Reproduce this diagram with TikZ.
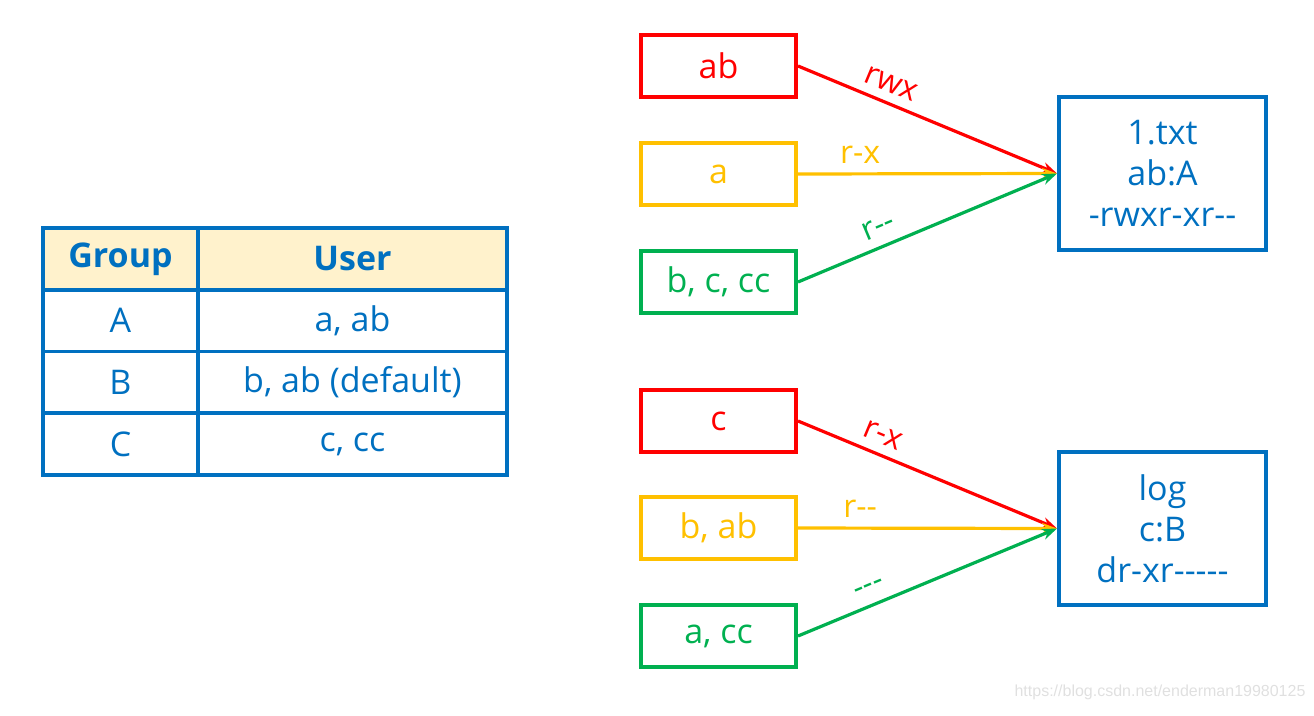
\documentclass[tikz,border=0pt]{standalone}
\usepackage{fontspec}
\setmainfont{Open Sans}
\newfontfamily\wmfont{Liberation Sans}
\usetikzlibrary{arrows.meta}
\definecolor{tblue}{HTML}{0070C0}
\definecolor{tred}{HTML}{FF0000}
\definecolor{tyel}{HTML}{FFC000}
\definecolor{tgreen}{HTML}{00B050}
\definecolor{thead}{HTML}{FFF2CC}
\begin{document}
\begin{tikzpicture}[x=1pt,y=-1pt,
  cell/.style={draw=tblue,line width=3.5pt,inner sep=0pt,text=tblue,font=\fontsize{34}{40}\selectfont},
  c1/.style={cell,minimum width=155pt},
  c2/.style={cell,minimum width=309pt},
  hd/.style={fill=thead,font=\fontsize{34}{40}\selectfont\bfseries,minimum height=62pt},
  rw/.style={minimum height=61.5pt},
  ubox/.style={draw=#1,text=#1,line width=4pt,minimum width=155pt,minimum height=62pt,inner sep=0pt,font=\fontsize{34}{40}\selectfont},
  fbox/.style={draw=tblue,text=tblue,line width=4pt,minimum width=207pt,minimum height=153pt,inner sep=0pt,align=center,font=\fontsize{34}{41}\selectfont},
  conn/.style={draw=#1,line width=3.2pt,-{Stealth[length=15pt,width=11pt]}},
  lbl/.style={text=#1,font=\fontsize{32}{36}\selectfont,inner sep=2pt,above=7pt}
]
\useasboundingbox (0,0) rectangle (1314,715);
% table
\node[c1,hd] (g0) at (120.5,259) {Group};
\node[c2,hd] (u0) at (352.5,259) {User};
\node[c1,rw] (g1) at (120.5,320.5) {A};
\node[c2,rw] (u1) at (352.5,320.5) {a, ab};
\node[c1,rw] (g2) at (120.5,382) {B};
\node[c2,rw] (u2) at (352.5,382) {b, ab (default)};
\node[c1,rw] (g3) at (120.5,444) {C};
\node[c2,rw] (u3) at (352.5,444) {c, cc};
% upper group
\node[ubox=tred] (ab) at (718.5,66) {ab};
\node[ubox=tyel] (a) at (718.5,174) {a};
\node[ubox=tgreen] (bccc) at (718.5,282) {b, c, cc};
\node[fbox] (f1) at (1162.5,173.5) {1.txt\\ab:A\\-rwxr-xr-{}-};
\draw[conn=tred] (ab.east) -- node[lbl=tred,sloped,pos=0.33] {rwx} (f1.west);
\draw[conn=tyel] (a.east) -- node[lbl=tyel,pos=0.24] {r-x} (f1.west);
\draw[conn=tgreen] (bccc.east) -- node[lbl=tgreen,sloped,pos=0.34] {r-{}-} (f1.west);
% lower group
\node[ubox=tred] (c) at (718.5,421) {c};
\node[ubox=tyel] (bab) at (718.5,528) {b, ab};
\node[ubox=tgreen] (acc) at (718.5,636) {a, cc};
\node[fbox] (f2) at (1162.5,528.5) {log\\c:B\\dr-xr-{}-{}-{}-{}-};
\draw[conn=tred] (c.east) -- node[lbl=tred,sloped,pos=0.3] {r-x} (f2.west);
\draw[conn=tyel] (bab.east) -- node[lbl=tyel,pos=0.24] {r-{}-} (f2.west);
\draw[conn=tgreen] (acc.east) -- node[lbl=tgreen,sloped,pos=0.3] {-{}-{}-} (f2.west);
\node[text=black!12,font=\wmfont\fontsize{16}{18}\selectfont] (wm) at (1160,692) {https://blog.csdn.net/enderman19980125};
\end{tikzpicture}
\end{document}
